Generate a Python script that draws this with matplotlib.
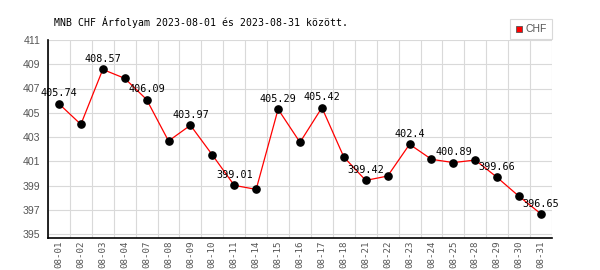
import matplotlib
matplotlib.use("Agg")
import matplotlib.pyplot as plt
from matplotlib.lines import Line2D

dates = ["08-01", "08-02", "08-03", "08-04", "08-07", "08-08", "08-09", "08-10",
         "08-11", "08-14", "08-15", "08-16", "08-17", "08-18", "08-21", "08-22",
         "08-23", "08-24", "08-25", "08-28", "08-29", "08-30", "08-31"]
chf = [405.74, 404.04, 408.57, 407.84, 406.09, 402.67, 403.97, 401.52,
       399.01, 398.68, 405.29, 402.56, 405.42, 401.35, 399.42, 399.78,
       402.4, 401.16, 400.89, 401.10, 399.66, 398.10, 396.65]
yticks = [395, 397, 399, 401, 403, 405, 407, 409, 411]
title = "MNB CHF Árfolyam 2023-08-01 és 2023-08-31 között."
series_name = "CHF"

mono = "DejaVu Sans Mono"
sans = "Liberation Sans"
grid_c = "#d9d9d9"
tick_c = "#555555"

fig = plt.figure(figsize=(6, 2.7), dpi=100)
ax = fig.add_axes([48/600, 1-238/270, 504/600, 198/270])

x = list(range(len(dates)))
ax.plot(x, chf, color="red", lw=0.9, zorder=3)
ax.plot(x, chf, "o", color="black", ms=5.2, zorder=4)

for i in range(0, len(chf), 2):
    ax.annotate("%g" % chf[i], (x[i], chf[i]), xytext=(0, 7.5),
                textcoords="offset points", ha="center", va="center",
                fontsize=7.3, family=mono, color="black", zorder=5)

ax.set_xlim(-0.5, len(dates) - 0.5)
ax.set_ylim(411 - 198/12.125, 411)
ax.set_yticks(yticks)
ax.set_yticklabels([str(v) for v in yticks], fontsize=7.6, family=sans, color=tick_c)
ax.set_xticks(x)
ax.set_xticklabels(dates, rotation=90, fontsize=6.6, family=mono, color=tick_c)
ax.set_xticks([i + 0.5 for i in range(-1, len(dates))], minor=True)
ax.tick_params(axis="both", which="both", length=0)
ax.tick_params(axis="y", pad=5.5)
ax.tick_params(axis="x", pad=2)

ax.grid(False)
ax.xaxis.grid(True, which="minor", color=grid_c, lw=0.8)
ax.yaxis.grid(True, which="major", color=grid_c, lw=0.8)
ax.set_axisbelow(True)
for s in ["top", "right"]:
    ax.spines[s].set_visible(False)
for s in ["left", "bottom"]:
    ax.spines[s].set_color("black")
    ax.spines[s].set_linewidth(1.2)

fig.text(54/600, 1-22/270, title, ha="left", va="center", fontsize=7.1,
         family=mono, color="black")

handle = Line2D([], [], marker="s", ls="none", markerfacecolor="red",
                markeredgecolor="#555555", markersize=5, markeredgewidth=0.6)
leg = fig.legend([handle], [series_name], loc="upper right",
                 bbox_to_anchor=(552/600, 1-19/270), frameon=True, fancybox=False,
                 edgecolor=grid_c, framealpha=1,
                 prop={"family": sans, "size": 7.5}, handlelength=0.7,
                 handletextpad=0.3, borderpad=0.5, borderaxespad=0)
for t in leg.get_texts():
    t.set_color(tick_c)
leg.get_frame().set_linewidth(0.8)

fig.savefig("out.png", dpi=100)
